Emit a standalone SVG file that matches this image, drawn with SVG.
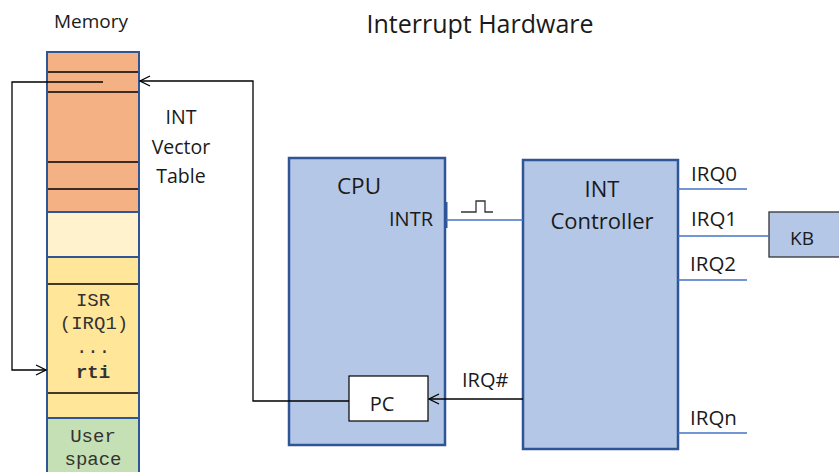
<svg xmlns="http://www.w3.org/2000/svg" width="839" height="472" viewBox="0 0 839 472">
<style>
.t{font-family:"Open Sans","Noto Sans","Liberation Sans",sans-serif;fill:#1a1a1a}
.m{font-family:"Liberation Mono","Courier New",monospace;fill:#333;font-size:19px}
.blk{fill:#B4C7E7;stroke:#2F5597;stroke-width:2.5}
.memb{stroke:#2F5597;stroke-width:2}
.bl{stroke:#000;stroke-width:1.3;fill:none}
.wire{stroke:#4472C4;stroke-width:1.5;fill:none}
</style>
<defs>
<marker id="open" viewBox="0 0 12 12" refX="11" refY="6" markerWidth="12" markerHeight="12" markerUnits="userSpaceOnUse" orient="auto">
<path d="M1,1 L11,6 L1,11" fill="none" stroke="#000" stroke-width="1.3"/>
</marker>
</defs>
<rect width="839" height="472" fill="#fff"/>
<text class="t" x="480" y="33" font-size="25" text-anchor="middle">Interrupt Hardware</text>
<text class="t" x="91" y="28" font-size="19" text-anchor="middle">Memory</text>

<g id="memory">
<rect x="47" y="52" width="92" height="160" fill="#F4B183"/>
<rect x="47" y="212" width="92" height="45" fill="#FFF2CC"/>
<rect x="47" y="257" width="92" height="161" fill="#FFE699"/>
<rect x="47" y="418" width="92" height="60" fill="#C5E0B4"/>
<line class="bl" x1="47" y1="72" x2="139" y2="72"/>
<line class="bl" x1="47" y1="92" x2="139" y2="92"/>
<line class="bl" x1="47" y1="162" x2="139" y2="162"/>
<line class="bl" x1="47" y1="189" x2="139" y2="189"/>
<line class="bl" x1="47" y1="284" x2="139" y2="284"/>
<line class="bl" x1="47" y1="393" x2="139" y2="393"/>
<line class="memb" x1="47" y1="212" x2="139" y2="212"/>
<line class="memb" x1="47" y1="257" x2="139" y2="257"/>
<line class="memb" x1="47" y1="418" x2="139" y2="418"/>
<path class="memb" d="M47,472 V52 H139 V472" fill="none"/>
<text class="m" x="93" y="306" text-anchor="middle">ISR</text>
<text class="m" x="94" y="329" text-anchor="middle">(IRQ1)</text>
<text class="m" x="93" y="353" text-anchor="middle">...</text>
<text class="m" x="93" y="378" text-anchor="middle" font-weight="bold" fill="#000">rti</text>
<text class="m" x="93" y="442" text-anchor="middle">User</text>
<text class="m" x="93" y="465" text-anchor="middle">space</text>
</g>

<g id="vector-label">
<text class="t" x="181" y="124" font-size="19.5" text-anchor="middle">INT</text>
<text class="t" x="181" y="154" font-size="19.5" text-anchor="middle">Vector</text>
<text class="t" x="181" y="183" font-size="19.5" text-anchor="middle">Table</text>
</g>

<g id="cpu">
<rect class="blk" x="289" y="158" width="156" height="287"/>
<text class="t" x="359" y="194" font-size="22.5" text-anchor="middle">CPU</text>
<text class="t" x="433" y="226" font-size="20" text-anchor="end">INTR</text>
<line x1="446" y1="202" x2="446" y2="228" stroke="#2F5597" stroke-width="3"/>
</g>

<g id="pc">
<rect x="349" y="376" width="79" height="45" fill="#fff" stroke="#000" stroke-width="1.2"/>
<text class="t" x="382" y="411" font-size="20" text-anchor="middle">PC</text>
</g>

<g id="int-controller">
<rect class="blk" x="523" y="160" width="155" height="289"/>
<text class="t" x="602" y="197" font-size="22" text-anchor="middle">INT</text>
<text class="t" x="602" y="229" font-size="22" text-anchor="middle">Controller</text>
</g>

<g id="kb">
<rect x="769" y="212" width="75" height="45" fill="#B4C7E7" stroke="#333" stroke-width="1.3"/>
<text class="t" x="802" y="245" font-size="19" text-anchor="middle">KB</text>
</g>

<g id="connectors">
<path class="bl" d="M103,82 H12 V370 H46" marker-end="url(#open)"/>
<path class="bl" d="M349,401 H253 V81 H140" marker-end="url(#open)"/>
<path class="bl" d="M523,399 H429" marker-end="url(#open)"/>
<line class="wire" x1="446" y1="220" x2="523" y2="220"/>
<path d="M461,212 H476 V201 H485 V212 H493" fill="none" stroke="#333" stroke-width="1.3"/>
<line class="wire" x1="678" y1="189" x2="747" y2="189"/>
<line class="wire" x1="678" y1="236" x2="769" y2="236"/>
<line class="wire" x1="678" y1="280" x2="747" y2="280"/>
<line class="wire" x1="678" y1="433" x2="747" y2="433"/>
</g>

<g id="labels">
<text class="t" x="691" y="181" font-size="20.5">IRQ0</text>
<text class="t" x="691" y="226" font-size="20.5">IRQ1</text>
<text class="t" x="690" y="271" font-size="20.5">IRQ2</text>
<text class="t" x="690" y="425" font-size="20.5">IRQn</text>
<text class="t" x="462" y="387" font-size="20">IRQ#</text>
</g>
</svg>
